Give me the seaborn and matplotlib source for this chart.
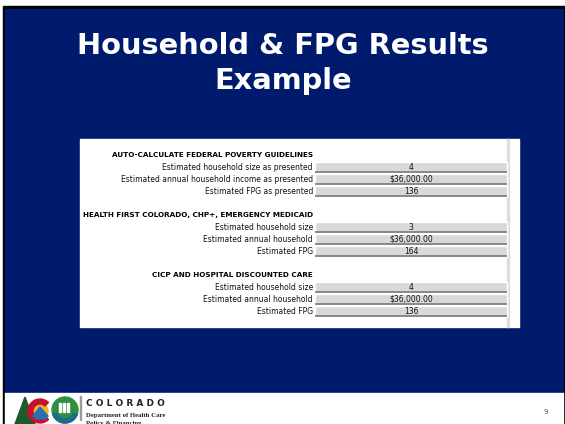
import matplotlib
matplotlib.use("Agg")
import matplotlib.pyplot as plt
import matplotlib.patches as mpatches
import seaborn as sns

# slide content
title_lines = ["Household & FPG Results", "Example"]
sections = [
    "AUTO-CALCULATE FEDERAL POVERTY GUIDELINES",
    "HEALTH FIRST COLORADO, CHP+, EMERGENCY MEDICAID",
    "CICP AND HOSPITAL DISCOUNTED CARE",
]
row_labels = [
    ["Estimated household size as presented",
     "Estimated annual household income as presented",
     "Estimated FPG as presented"],
    ["Estimated household size",
     "Estimated annual household",
     "Estimated FPG"],
    ["Estimated household size",
     "Estimated annual household",
     "Estimated FPG"],
]
household_size = [4, 3, 4]
annual_income = [36000.00, 36000.00, 36000.00]
fpg_percent = [136, 164, 136]
page_number = "9"

NAVY = "#001a6e"

sns.set_theme(style="white")
plt.rcParams["font.family"] = ["DejaVu Sans"]

fig = plt.figure(figsize=(5.65, 4.24), dpi=100)
ax = fig.add_axes([0, 0, 1, 1])
ax.set_xlim(0, 565)
ax.set_ylim(424, 0)
ax.axis("off")

# slide frame
ax.add_patch(mpatches.Rectangle((2.5, 6), 563, 420, color="black", zorder=0))
ax.add_patch(mpatches.Rectangle((5, 9), 558, 384, color=NAVY, zorder=1))
ax.add_patch(mpatches.Rectangle((5, 393), 558, 32, color="white", zorder=1))

# title
for i, line in enumerate(title_lines):
    ax.text(283, 46 + i * 35, line, color="white", fontsize=20.8, fontweight="bold",
            ha="center", va="center", zorder=3)

# spreadsheet panel
ax.add_patch(mpatches.Rectangle((80, 139), 439, 188, color="white", zorder=2))
ax.add_patch(mpatches.Rectangle((507, 139), 2, 188, color="#dedede", zorder=3))

pitch = 12
top = 155
label_x = 313
cell_left, cell_right = 315, 507
for s, header in enumerate(sections):
    base = s * 5
    ax.text(label_x, top + base * pitch, header, fontsize=5.2, fontweight="bold",
            ha="right", va="center", color="black", zorder=4)
    values = [f"{household_size[s]}", f"${annual_income[s]:,.2f}", f"{fpg_percent[s]}"]
    ys = [top + (base + k + 1) * pitch for k in range(3)]
    ax.barh(ys, [cell_right - cell_left] * 3, left=cell_left, height=pitch - 1,
            color="#d9d9d9", zorder=3)
    for y, lab, val in zip(ys, row_labels[s], values):
        ax.hlines(y + pitch / 2 - 0.6, cell_left, cell_right, color="#7a7a7a", lw=1.2, zorder=4)
        ax.text(label_x, y, lab, fontsize=5.5, ha="right", va="center", color="#111111", zorder=4)
        ax.text((cell_left + cell_right) / 2, y, val, fontsize=5.5, ha="center", va="center",
                color="#111111", zorder=4)

# footer logo
ax.add_patch(mpatches.Polygon([[25, 397], [15, 424], [35, 424]], color="#1f5a2c", zorder=3))
ax.add_patch(mpatches.Wedge((40, 411), 12, 45, 315, width=5, color="#c8102e", zorder=4))
ax.add_patch(mpatches.Circle((41, 411), 7, color="#f2b51c", zorder=3))
ax.add_patch(mpatches.Polygon([[33, 416], [40, 407], [48, 416], [45, 419], [36, 419]],
                              color="#2a6eb5", zorder=4))
ax.add_patch(mpatches.Circle((65, 410), 13, color="#2f8f3f", zorder=3))
ax.add_patch(mpatches.Wedge((65, 410), 13, 20, 160, width=4, color="#1d6b8f", zorder=4))
for dx in (-4, 0, 4):
    ax.add_patch(mpatches.Rectangle((63 + dx, 403), 2.2, 9, color="white", zorder=5))
ax.add_patch(mpatches.Rectangle((80, 396), 0.8, 24, color="#9a9a9a", zorder=3))

ax.text(86, 403, "C O L O R A D O", fontsize=6.5, fontweight="bold", ha="left", va="center",
        color="#222222", zorder=3)
ax.text(86, 415, "Department of Health Care", fontsize=4.9, fontweight="bold",
        family="Liberation Serif", ha="left", va="center", color="#222222", zorder=3)
ax.text(86, 423, "Policy & Financing", fontsize=4.9, fontweight="bold",
        family="Liberation Serif", ha="left", va="center", color="#222222", zorder=3)

ax.text(546, 412, page_number, fontsize=5, ha="center", va="center", color="#555555", zorder=3)

fig.savefig("out.png", dpi=100, facecolor="white")
